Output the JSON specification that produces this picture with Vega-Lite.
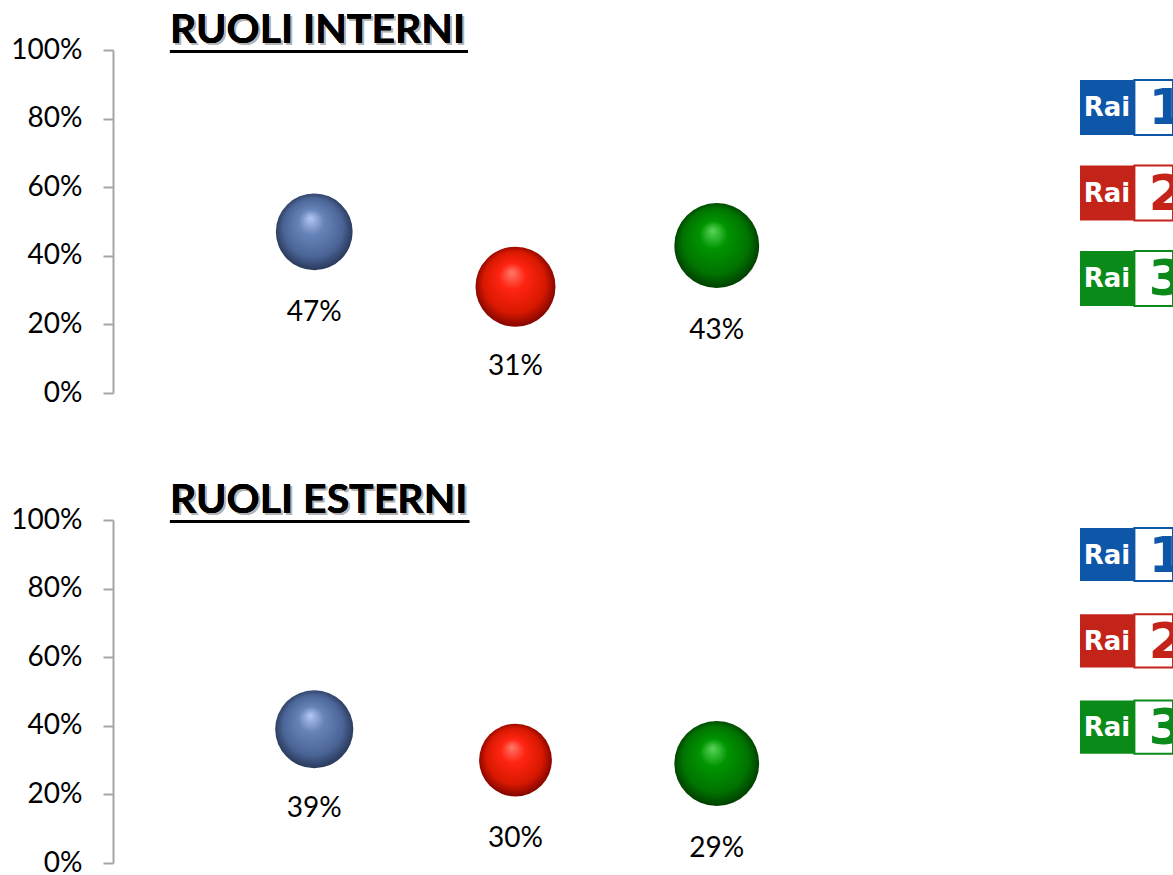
{
  "$schema": "https://vega.github.io/schema/vega-lite/v6.json",
  "background": "white",
  "padding": {"left": 10, "top": 10, "right": 0, "bottom": 0},
  "autosize": {"type": "pad"},
  "datasets": {
    "bolle": [
      {"pannello": "RUOLI INTERNI", "canale": "Rai 1", "ordine": 1, "quota": 0.47, "peso": 59},
      {"pannello": "RUOLI INTERNI", "canale": "Rai 2", "ordine": 2, "quota": 0.31, "peso": 64},
      {"pannello": "RUOLI INTERNI", "canale": "Rai 3", "ordine": 3, "quota": 0.43, "peso": 72},
      {"pannello": "RUOLI ESTERNI", "canale": "Rai 1", "ordine": 1, "quota": 0.39, "peso": 61},
      {"pannello": "RUOLI ESTERNI", "canale": "Rai 2", "ordine": 2, "quota": 0.30, "peso": 53},
      {"pannello": "RUOLI ESTERNI", "canale": "Rai 3", "ordine": 3, "quota": 0.29, "peso": 72}
    ],
    "loghi": [
      {"canale": "Rai 1", "marchio": "Rai", "numero": "1"},
      {"canale": "Rai 2", "marchio": "Rai", "numero": "2"},
      {"canale": "Rai 3", "marchio": "Rai", "numero": "3"}
    ]
  },
  "config": {
    "view": {"stroke": null},
    "axis": {"labelFont": "Lato", "titleFont": "Lato"},
    "text": {"font": "Lato"}
  },
  "vconcat": [
    {
      "hconcat": [
        {
          "width": 805,
          "height": 343,
          "data": {"name": "bolle"},
          "transform": [{"filter": "datum.pannello === 'RUOLI INTERNI'"}],
          "encoding": {
            "x": {"field": "ordine", "type": "quantitative", "scale": {"domain": [0, 4]}, "axis": null},
            "y": {"field": "quota", "type": "quantitative", "scale": {"domain": [0, 1]},
              "axis": {"values": [0, 0.2, 0.4, 0.6, 0.8, 1], "format": ".0%", "grid": false, "title": null,
                "domainColor": "#a6a6a6", "domainWidth": 2, "tickColor": "#a6a6a6", "tickWidth": 2, "tickSize": 10,
                "labelFontSize": 28, "labelColor": "#000000", "labelPadding": 21}}
          },
          "layer": [
            {"mark": {"type": "text", "text": "RUOLI INTERNI", "align": "left", "baseline": "alphabetic", "font": "Lato", "fontWeight": "bold", "fontSize": 41, "color": "#b4b4b4", "dx": 2, "dy": -5},
              "encoding": {"x": {"datum": 0.283}, "y": {"datum": 1}}},
            {"mark": {"type": "text", "text": "RUOLI INTERNI", "align": "left", "baseline": "alphabetic", "font": "Lato", "fontWeight": "bold", "fontSize": 41, "color": "#000000", "dy": -7},
              "encoding": {"x": {"datum": 0.283}, "y": {"datum": 1}}},
            {"mark": {"type": "rule", "color": "#000000", "strokeWidth": 3, "yOffset": 1.5},
              "encoding": {"x": {"datum": 0.283}, "x2": {"datum": 1.764}, "y": {"datum": 1}}},
            {"transform": [{"filter": "datum.canale === 'Rai 1'"}],
              "mark": {"type": "circle", "opacity": 1, "fill": {"gradient": "radial", "x1": 0.45, "y1": 0.32, "r1": 0, "x2": 0.5, "y2": 0.5, "r2": 0.55,
                "stops": [{"offset": 0, "color": "#b4c8f4"}, {"offset": 0.3, "color": "#6683b8"}, {"offset": 0.7, "color": "#4a6496"}, {"offset": 1, "color": "#1f2c48"}]}},
              "encoding": {"size": {"field": "peso", "type": "quantitative", "scale": {"domain": [0, 100], "range": [0, 10000]}, "legend": null}}},
            {"transform": [{"filter": "datum.canale === 'Rai 2'"}],
              "mark": {"type": "circle", "opacity": 1, "fill": {"gradient": "radial", "x1": 0.45, "y1": 0.32, "r1": 0, "x2": 0.5, "y2": 0.5, "r2": 0.55,
                "stops": [{"offset": 0, "color": "#ff7a6a"}, {"offset": 0.3, "color": "#ff2412"}, {"offset": 0.7, "color": "#d81800"}, {"offset": 1, "color": "#6a0000"}]}},
              "encoding": {"size": {"field": "peso", "type": "quantitative", "scale": {"domain": [0, 100], "range": [0, 10000]}, "legend": null}}},
            {"transform": [{"filter": "datum.canale === 'Rai 3'"}],
              "mark": {"type": "circle", "opacity": 1, "fill": {"gradient": "radial", "x1": 0.45, "y1": 0.32, "r1": 0, "x2": 0.5, "y2": 0.5, "r2": 0.55,
                "stops": [{"offset": 0, "color": "#5ad65a"}, {"offset": 0.3, "color": "#009400"}, {"offset": 0.7, "color": "#007400"}, {"offset": 1, "color": "#003000"}]}},
              "encoding": {"size": {"field": "peso", "type": "quantitative", "scale": {"domain": [0, 100], "range": [0, 10000]}, "legend": null}}},
            {"transform": [{"filter": "datum.canale === 'Rai 1'"}],
              "mark": {"type": "text", "fontSize": 28, "color": "#000000", "baseline": "middle", "dy": 81},
              "encoding": {"text": {"field": "quota", "type": "quantitative", "format": ".0%"}}},
            {"transform": [{"filter": "datum.canale === 'Rai 2'"}],
              "mark": {"type": "text", "fontSize": 28, "color": "#000000", "baseline": "middle", "dy": 80},
              "encoding": {"text": {"field": "quota", "type": "quantitative", "format": ".0%"}}},
            {"transform": [{"filter": "datum.canale === 'Rai 3'"}],
              "mark": {"type": "text", "fontSize": 28, "color": "#000000", "baseline": "middle", "dy": 85},
              "encoding": {"text": {"field": "quota", "type": "quantitative", "format": ".0%"}}}
          ]
        },
        {
          "width": 93,
          "height": 343,
          "data": {"name": "loghi"},
          "encoding": {
            "y": {"field": "canale", "type": "nominal", "axis": null,
              "scale": {"paddingInner": 0.357, "paddingOuter": 0.684, "align": 0.256}}
          },
          "layer": [
            {"mark": {"type": "rect"},
              "encoding": {"x": {"datum": 0, "scale": {"domain": [0, 1]}, "axis": null}, "x2": {"datum": 0.585},
                "color": {"field": "canale", "type": "nominal", "scale": {"domain": ["Rai 1", "Rai 2", "Rai 3"], "range": ["#0e56a8", "#c4231a", "#0a8a18"]}, "legend": null}}},
            {"mark": {"type": "rect", "fill": "white", "strokeWidth": 2},
              "encoding": {"x": {"datum": 0.585}, "x2": {"datum": 1},
                "stroke": {"field": "canale", "type": "nominal", "scale": {"domain": ["Rai 1", "Rai 2", "Rai 3"], "range": ["#0e56a8", "#c4231a", "#0a8a18"]}, "legend": null}}},
            {"mark": {"type": "text", "font": "DejaVu Sans", "fontWeight": "bold", "fontSize": 26, "color": "white", "align": "center", "baseline": "middle", "dy": 1},
              "encoding": {"x": {"datum": 0.29}, "text": {"field": "marchio"}}},
            {"mark": {"type": "text", "font": "DejaVu Sans", "fontWeight": "bold", "fontSize": 50, "align": "left", "baseline": "middle", "dy": 2, "clip": true},
              "encoding": {"x": {"datum": 0.74}, "text": {"field": "numero"},
                "color": {"field": "canale", "type": "nominal", "scale": {"domain": ["Rai 1", "Rai 2", "Rai 3"], "range": ["#0e56a8", "#c4231a", "#0a8a18"]}, "legend": null}}}
          ]
        }
      ],
      "spacing": 162,
      "bounds": "flush"
    },
    {
      "hconcat": [
        {
          "width": 805,
          "height": 343,
          "data": {"name": "bolle"},
          "transform": [{"filter": "datum.pannello === 'RUOLI ESTERNI'"}],
          "encoding": {
            "x": {"field": "ordine", "type": "quantitative", "scale": {"domain": [0, 4]}, "axis": null},
            "y": {"field": "quota", "type": "quantitative", "scale": {"domain": [0, 1]},
              "axis": {"values": [0, 0.2, 0.4, 0.6, 0.8, 1], "format": ".0%", "grid": false, "title": null,
                "domainColor": "#a6a6a6", "domainWidth": 2, "tickColor": "#a6a6a6", "tickWidth": 2, "tickSize": 10,
                "labelFontSize": 28, "labelColor": "#000000", "labelPadding": 21}}
          },
          "layer": [
            {"mark": {"type": "text", "text": "RUOLI ESTERNI", "align": "left", "baseline": "alphabetic", "font": "Lato", "fontWeight": "bold", "fontSize": 41, "color": "#b4b4b4", "dx": 2, "dy": -5},
              "encoding": {"x": {"datum": 0.283}, "y": {"datum": 1}}},
            {"mark": {"type": "text", "text": "RUOLI ESTERNI", "align": "left", "baseline": "alphabetic", "font": "Lato", "fontWeight": "bold", "fontSize": 41, "color": "#000000", "dy": -7},
              "encoding": {"x": {"datum": 0.283}, "y": {"datum": 1}}},
            {"mark": {"type": "rule", "color": "#000000", "strokeWidth": 3, "yOffset": 1.5},
              "encoding": {"x": {"datum": 0.283}, "x2": {"datum": 1.77}, "y": {"datum": 1}}},
            {"transform": [{"filter": "datum.canale === 'Rai 1'"}],
              "mark": {"type": "circle", "opacity": 1, "fill": {"gradient": "radial", "x1": 0.45, "y1": 0.32, "r1": 0, "x2": 0.5, "y2": 0.5, "r2": 0.55,
                "stops": [{"offset": 0, "color": "#b4c8f4"}, {"offset": 0.3, "color": "#6683b8"}, {"offset": 0.7, "color": "#4a6496"}, {"offset": 1, "color": "#1f2c48"}]}},
              "encoding": {"size": {"field": "peso", "type": "quantitative", "scale": {"domain": [0, 100], "range": [0, 10000]}, "legend": null}}},
            {"transform": [{"filter": "datum.canale === 'Rai 2'"}],
              "mark": {"type": "circle", "opacity": 1, "fill": {"gradient": "radial", "x1": 0.45, "y1": 0.32, "r1": 0, "x2": 0.5, "y2": 0.5, "r2": 0.55,
                "stops": [{"offset": 0, "color": "#ff7a6a"}, {"offset": 0.3, "color": "#ff2412"}, {"offset": 0.7, "color": "#d81800"}, {"offset": 1, "color": "#6a0000"}]}},
              "encoding": {"size": {"field": "peso", "type": "quantitative", "scale": {"domain": [0, 100], "range": [0, 10000]}, "legend": null}}},
            {"transform": [{"filter": "datum.canale === 'Rai 3'"}],
              "mark": {"type": "circle", "opacity": 1, "fill": {"gradient": "radial", "x1": 0.45, "y1": 0.32, "r1": 0, "x2": 0.5, "y2": 0.5, "r2": 0.55,
                "stops": [{"offset": 0, "color": "#5ad65a"}, {"offset": 0.3, "color": "#009400"}, {"offset": 0.7, "color": "#007400"}, {"offset": 1, "color": "#003000"}]}},
              "encoding": {"size": {"field": "peso", "type": "quantitative", "scale": {"domain": [0, 100], "range": [0, 10000]}, "legend": null}}},
            {"transform": [{"filter": "datum.canale === 'Rai 1'"}],
              "mark": {"type": "text", "fontSize": 28, "color": "#000000", "baseline": "middle", "dy": 80},
              "encoding": {"text": {"field": "quota", "type": "quantitative", "format": ".0%"}}},
            {"transform": [{"filter": "datum.canale === 'Rai 2'"}],
              "mark": {"type": "text", "fontSize": 28, "color": "#000000", "baseline": "middle", "dy": 79},
              "encoding": {"text": {"field": "quota", "type": "quantitative", "format": ".0%"}}},
            {"transform": [{"filter": "datum.canale === 'Rai 3'"}],
              "mark": {"type": "text", "fontSize": 28, "color": "#000000", "baseline": "middle", "dy": 85},
              "encoding": {"text": {"field": "quota", "type": "quantitative", "format": ".0%"}}}
          ]
        },
        {
          "width": 93,
          "height": 343,
          "data": {"name": "loghi"},
          "encoding": {
            "y": {"field": "canale", "type": "nominal", "axis": null,
              "scale": {"paddingInner": 0.384, "paddingOuter": 0.68, "align": 0.068}}
          },
          "layer": [
            {"mark": {"type": "rect"},
              "encoding": {"x": {"datum": 0, "scale": {"domain": [0, 1]}, "axis": null}, "x2": {"datum": 0.585},
                "color": {"field": "canale", "type": "nominal", "scale": {"domain": ["Rai 1", "Rai 2", "Rai 3"], "range": ["#0e56a8", "#c4231a", "#0a8a18"]}, "legend": null}}},
            {"mark": {"type": "rect", "fill": "white", "strokeWidth": 2},
              "encoding": {"x": {"datum": 0.585}, "x2": {"datum": 1},
                "stroke": {"field": "canale", "type": "nominal", "scale": {"domain": ["Rai 1", "Rai 2", "Rai 3"], "range": ["#0e56a8", "#c4231a", "#0a8a18"]}, "legend": null}}},
            {"mark": {"type": "text", "font": "DejaVu Sans", "fontWeight": "bold", "fontSize": 26, "color": "white", "align": "center", "baseline": "middle", "dy": 1},
              "encoding": {"x": {"datum": 0.29}, "text": {"field": "marchio"}}},
            {"mark": {"type": "text", "font": "DejaVu Sans", "fontWeight": "bold", "fontSize": 50, "align": "left", "baseline": "middle", "dy": 2, "clip": true},
              "encoding": {"x": {"datum": 0.74}, "text": {"field": "numero"},
                "color": {"field": "canale", "type": "nominal", "scale": {"domain": ["Rai 1", "Rai 2", "Rai 3"], "range": ["#0e56a8", "#c4231a", "#0a8a18"]}, "legend": null}}}
          ]
        }
      ],
      "spacing": 162,
      "bounds": "flush"
    }
  ],
  "spacing": 73
}
